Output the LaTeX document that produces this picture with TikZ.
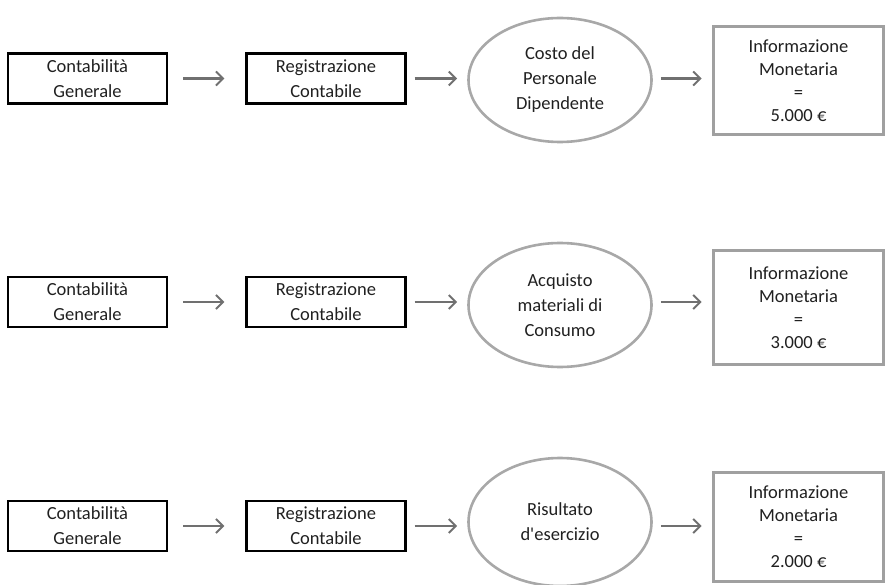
\documentclass[tikz,border=0pt]{standalone}
\usepackage{fontspec}
\setmainfont{Carlito}[Ligatures=TeXOff]
\usetikzlibrary{arrows.meta,shapes.geometric}
\definecolor{txt}{HTML}{202020}
\definecolor{flow}{HTML}{707070}
\definecolor{ring}{HTML}{A8A8A8}
\definecolor{frame}{HTML}{A0A0A0}
\begin{document}
\begin{tikzpicture}[x=1pt,y=-1pt,
  every node/.style={font=\fontsize{18.5}{25}\selectfont, text=txt, align=center},
  plainbox/.style={draw=black, line width=2.2pt, minimum width=159pt, minimum height=50pt, inner sep=0pt},
  topic/.style={ellipse, draw=ring, line width=2.6pt, minimum width=183pt, minimum height=124pt, inner sep=0pt},
  money/.style={draw=frame, line width=3.8pt, minimum width=170pt, inner sep=0pt,
    font=\fontsize{18.5}{23}\selectfont},
  flowarrow/.style={draw=flow, line width=2.2pt, -{Straight Barb[length=7pt,width=14pt,line width=2pt]}}
]
\useasboundingbox (0,0) rectangle (886,585);

% row 1
\node[plainbox] (g1) at (87.5,78.5) {Contabilità\\Generale};
\node[plainbox] (r1) at (326,78.5) {Registrazione\\Contabile};
\node[topic] (c1) at (560,80) {Costo del\\Personale\\Dipendente};
\node[money, minimum height=108pt] (m1) at (798.5,80.5) {Informazione\\Monetaria\\=\\5.000 €};

% row 2
\node[plainbox] (g2) at (87.5,302) {Contabilità\\Generale};
\node[plainbox] (r2) at (326,302) {Registrazione\\Contabile};
\node[topic] (c2) at (560,305) {Acquisto\\materiali di\\Consumo};
\node[money, minimum height=114pt] (m2) at (798.5,307.5) {Informazione\\Monetaria\\=\\3.000 €};

% row 3
\node[plainbox] (g3) at (87.5,526) {Contabilità\\Generale};
\node[plainbox] (r3) at (326,526) {Registrazione\\Contabile};
\node[topic, minimum height=128pt] (c3) at (560,522) {Risultato\\d'esercizio};
\node[money, minimum height=109pt] (m3) at (798.5,527) {Informazione\\Monetaria\\=\\2.000 €};

% connectors
\foreach \i in {1,2,3}{
  \draw[flowarrow, shorten <=15pt, shorten >=21pt] (g\i.east) -- (g\i.east -| r\i.west);
  \draw[flowarrow, shorten <=8pt, shorten >=10pt] (r\i.east) -- (r\i.east -| c\i.west);
  \draw[flowarrow, shorten <=8pt, shorten >=10pt] (r\i.east -| c\i.east) -- (r\i.east -| m\i.west);
}
\end{tikzpicture}
\end{document}
